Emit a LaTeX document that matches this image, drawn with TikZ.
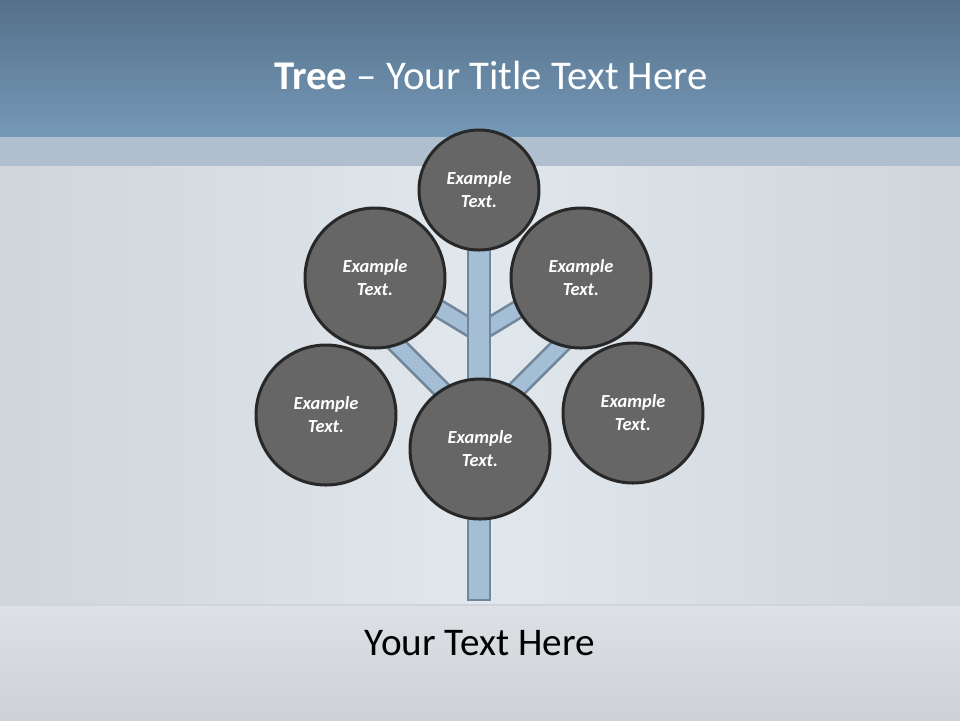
\documentclass[tikz,border=0pt]{standalone}
\usepackage{fontspec}
\setmainfont{Carlito}
\usetikzlibrary{calc}

\definecolor{headtop}{HTML}{55708A}
\definecolor{headbot}{HTML}{7599B8}
\definecolor{headband}{HTML}{AFBFCE}
\definecolor{wallside}{HTML}{CFD5DA}
\definecolor{wallmid}{HTML}{E0E7ED}
\definecolor{floortop}{HTML}{DDE1E5}
\definecolor{floorbot}{HTML}{CED2D7}
\definecolor{barfill}{HTML}{A4BED5}
\definecolor{barline}{HTML}{71869B}
\definecolor{bubblefill}{HTML}{666666}
\definecolor{bubbleline}{HTML}{282828}

\begin{document}
\begin{tikzpicture}[x=0.5pt,y=-0.5pt,
	bubble/.style={circle,draw=bubbleline,line width=1.5pt,fill=bubblefill,text=white,align=center,inner sep=0pt,font=\fontsize{9.2}{11.5}\selectfont\bfseries\itshape},
	branchout/.style={draw=barline,line width=9.8pt},
	branchin/.style={draw=barfill,line width=7.2pt},
	bar/.style={draw=barline,fill=barfill,line width=1.25pt}]
	\useasboundingbox (0,0) rectangle (960,720);
	\shade[left color=wallside,right color=wallside,middle color=wallmid] (0,166) rectangle (960,605);
	\shade[top color=headtop,bottom color=headbot] (0,0) rectangle (960,137);
	\fill[headband] (0,137) rectangle (960,166);
	\shade[top color=floortop,bottom color=floorbot] (0,605) rectangle (960,720);
	\draw[wallside,line width=1pt] (0,605) -- (960,605);
	\node[text=white,font=\fontsize{20.4}{24}\selectfont] (title) at (491,75) {\textbf{Tree} – Your Title Text Here};
	\node[text=black,font=\fontsize{19.6}{23}\selectfont] (caption) at (480,643) {Your Text Here};

	\coordinate (j1) at (479,333);
	\coordinate (j2) at (479,427);
	\coordinate (e1) at (375,270);
	\coordinate (e2) at (583,270);
	\coordinate (e3) at (360,308);
	\coordinate (e4) at (598,308);
	\draw[branchout] (j1) -- (e1);
	\draw[branchin] (j1) -- (e1);
	\draw[branchout] (j1) -- (e2);
	\draw[branchin] (j1) -- (e2);
	\draw[branchout] (j2) -- (e3);
	\draw[branchin] (j2) -- (e3);
	\draw[branchout] (j2) -- (e4);
	\draw[branchin] (j2) -- (e4);
	\draw[bar] (468,240) rectangle (490,600);

	\node[bubble,minimum size=60pt] (top) at (479,190) {Example\\Text.};
	\node[bubble,minimum size=70pt] (upleft) at (375,278) {Example\\Text.};
	\node[bubble,minimum size=70pt] (upright) at (581,278) {Example\\Text.};
	\node[bubble,minimum size=70pt] (left) at (326,415) {Example\\Text.};
	\node[bubble,minimum size=70pt] (right) at (633,413) {Example\\Text.};
	\node[bubble,minimum size=70pt] (middle) at (480,449) {Example\\Text.};
\end{tikzpicture}
\end{document}
